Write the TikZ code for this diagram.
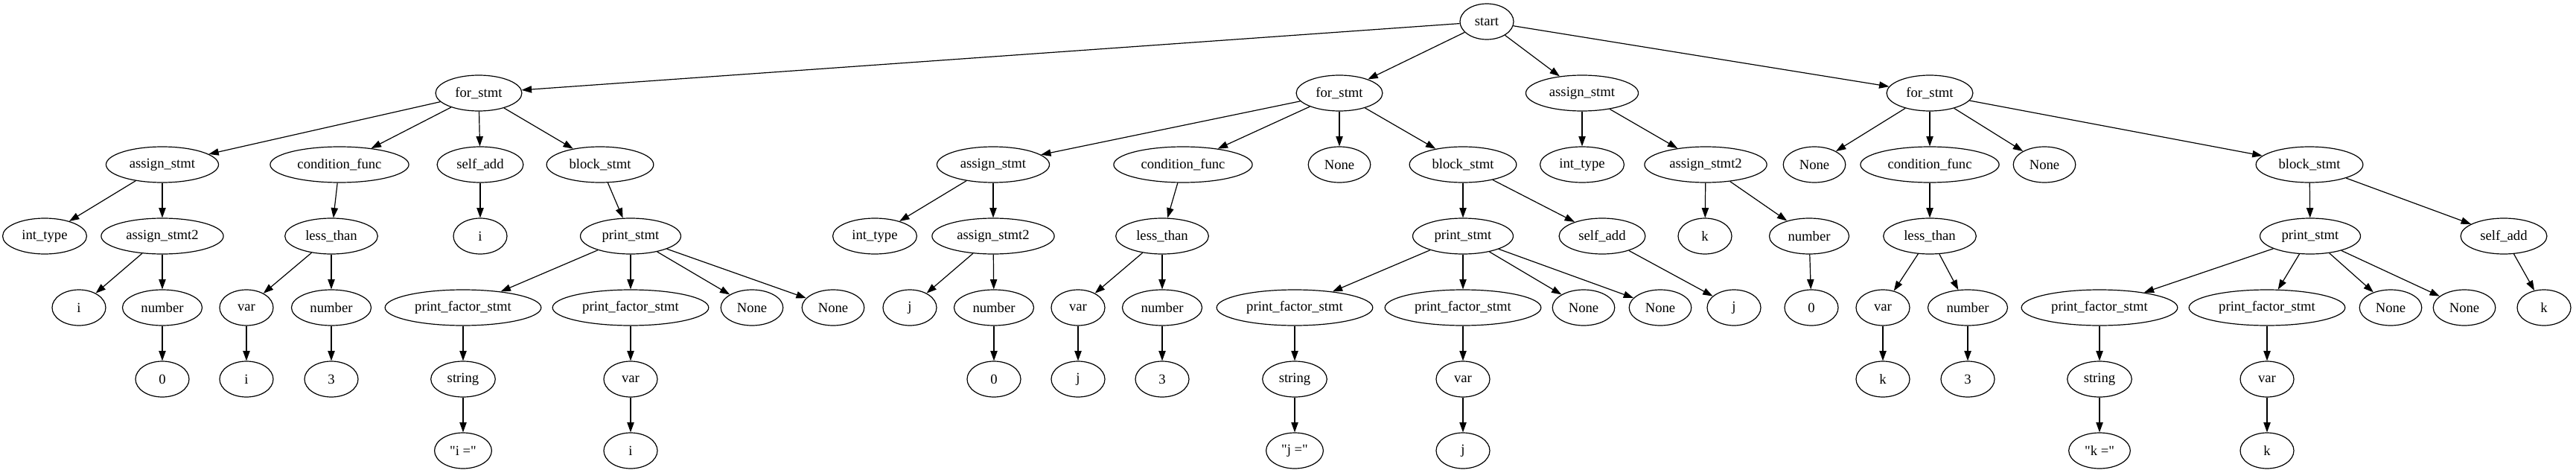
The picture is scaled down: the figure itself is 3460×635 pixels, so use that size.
\documentclass[tikz,border=0pt]{standalone}
\usepackage{fontspec}
\newfontfamily\gvfont{Liberation Serif}
\usetikzlibrary{shapes.geometric,arrows.meta}
\begin{document}
\begin{tikzpicture}[x=0.75pt,y=-0.75pt,
  gv/.style={ellipse,draw,line width=0.9pt,inner xsep=7pt,inner ysep=2pt,
    minimum width=54pt,minimum height=36pt,font=\gvfont\fontsize{14}{16}\selectfont},
  edge/.style={-{Triangle[length=10pt,width=7pt]},line width=0.9pt}]
\useasboundingbox (0,0) rectangle (3460,635);
% level 0 / 1
\node[gv] (s) at (1997,29) {start};
\node[gv] (fA) at (643,125) {for\_stmt};
\node[gv] (fB) at (1799,125) {for\_stmt};
\node[gv] (aC) at (2125,125) {assign\_stmt};
\node[gv] (fD) at (2592,125) {for\_stmt};
% tree A
\node[gv] (aA) at (218,221) {assign\_stmt};
\node[gv] (cA) at (456,221) {condition\_func};
\node[gv] (sA) at (645,221) {self\_add};
\node[gv] (bA) at (806,221) {block\_stmt};
\node[gv] (itA) at (60,317) {int\_type};
\node[gv] (a2A) at (218,317) {assign\_stmt2};
\node[gv] (lA) at (445,317) {less\_than};
\node[gv] (siA) at (645,317) {i};
\node[gv] (pA) at (847,317) {print\_stmt};
\node[gv] (iA) at (106,413) {i};
\node[gv] (nA) at (218,413) {number};
\node[gv] (vA) at (331,413) {var};
\node[gv] (n3A) at (445,413) {number};
\node[gv] (pf1A) at (622,413) {print\_factor\_stmt};
\node[gv] (pf2A) at (847,413) {print\_factor\_stmt};
\node[gv] (no1A) at (1010,413) {None};
\node[gv] (no2A) at (1119,413) {None};
\node[gv] (zA) at (218,509) {0};
\node[gv] (viA) at (331,509) {i};
\node[gv] (thA) at (445,509) {3};
\node[gv] (strA) at (622,509) {string};
\node[gv] (pvA) at (847,509) {var};
\node[gv] (qA) at (622,605) {"i ="};
\node[gv] (pviA) at (847,605) {i};
% tree B
\node[gv] (aB) at (1334,221) {assign\_stmt};
\node[gv] (cB) at (1589,221) {condition\_func};
\node[gv] (noB) at (1799,221) {None};
\node[gv] (bB) at (1965,221) {block\_stmt};
\node[gv] (itB) at (1175,317) {int\_type};
\node[gv] (a2B) at (1334,317) {assign\_stmt2};
\node[gv] (lB) at (1561,317) {less\_than};
\node[gv] (pB) at (1965,317) {print\_stmt};
\node[gv] (saB) at (2152,317) {self\_add};
\node[gv] (jB) at (1222,413) {j};
\node[gv] (nB) at (1335,413) {number};
\node[gv] (vB) at (1448,413) {var};
\node[gv] (n3B) at (1561,413) {number};
\node[gv] (pf1B) at (1739,413) {print\_factor\_stmt};
\node[gv] (pf2B) at (1965,413) {print\_factor\_stmt};
\node[gv] (no1B) at (2127,413) {None};
\node[gv] (no2B) at (2230,413) {None};
\node[gv] (sajB) at (2329,413) {j};
\node[gv] (zB) at (1335,509) {0};
\node[gv] (vjB) at (1448,509) {j};
\node[gv] (thB) at (1561,509) {3};
\node[gv] (strB) at (1739,509) {string};
\node[gv] (pvB) at (1965,509) {var};
\node[gv] (qB) at (1739,605) {"j ="};
\node[gv] (pvjB) at (1965,605) {j};
% tree C
\node[gv] (itC) at (2125,221) {int\_type};
\node[gv] (a2C) at (2291,221) {assign\_stmt2};
\node[gv] (kC) at (2290,317) {k};
\node[gv] (nC) at (2430,317) {number};
\node[gv] (zC) at (2433,413) {0};
% tree D
\node[gv] (noD1) at (2437,221) {None};
\node[gv] (cD) at (2592,221) {condition\_func};
\node[gv] (noD2) at (2746,221) {None};
\node[gv] (bD) at (3102,221) {block\_stmt};
\node[gv] (lD) at (2592,317) {less\_than};
\node[gv] (pD) at (3103,317) {print\_stmt};
\node[gv] (saD) at (3363,317) {self\_add};
\node[gv] (vD) at (2529,413) {var};
\node[gv] (n3D) at (2643,413) {number};
\node[gv] (pf1D) at (2820,413) {print\_factor\_stmt};
\node[gv] (pf2D) at (3045,413) {print\_factor\_stmt};
\node[gv] (no1D) at (3211,413) {None};
\node[gv] (no2D) at (3310,413) {None};
\node[gv] (sakD) at (3417,413) {k};
\node[gv] (vkD) at (2529,509) {k};
\node[gv] (thD) at (2643,509) {3};
\node[gv] (strD) at (2820,509) {string};
\node[gv] (pvD) at (3045,509) {var};
\node[gv] (qD) at (2820,605) {"k ="};
\node[gv] (pvkD) at (3045,605) {k};
% edges
\foreach \a/\b in {s/fA, s/fB, s/aC, s/fD,
  fA/aA, fA/cA, fA/sA, fA/bA,
  aA/itA, aA/a2A, a2A/iA, a2A/nA, nA/zA,
  cA/lA, lA/vA, lA/n3A, vA/viA, n3A/thA,
  sA/siA,
  bA/pA, pA/pf1A, pA/pf2A, pA/no1A, pA/no2A, pf1A/strA, strA/qA, pf2A/pvA, pvA/pviA,
  fB/aB, fB/cB, fB/noB, fB/bB,
  aB/itB, aB/a2B, a2B/jB, a2B/nB, nB/zB,
  cB/lB, lB/vB, lB/n3B, vB/vjB, n3B/thB,
  bB/pB, bB/saB, pB/pf1B, pB/pf2B, pB/no1B, pB/no2B, pf1B/strB, strB/qB, pf2B/pvB, pvB/pvjB, saB/sajB,
  aC/itC, aC/a2C, a2C/kC, a2C/nC, nC/zC,
  fD/noD1, fD/cD, fD/noD2, fD/bD,
  cD/lD, lD/vD, lD/n3D, vD/vkD, n3D/thD,
  bD/pD, bD/saD, pD/pf1D, pD/pf2D, pD/no1D, pD/no2D, pf1D/strD, strD/qD, pf2D/pvD, pvD/pvkD, saD/sakD}
  \draw[edge] (\a) -- (\b);
\end{tikzpicture}
\end{document}
